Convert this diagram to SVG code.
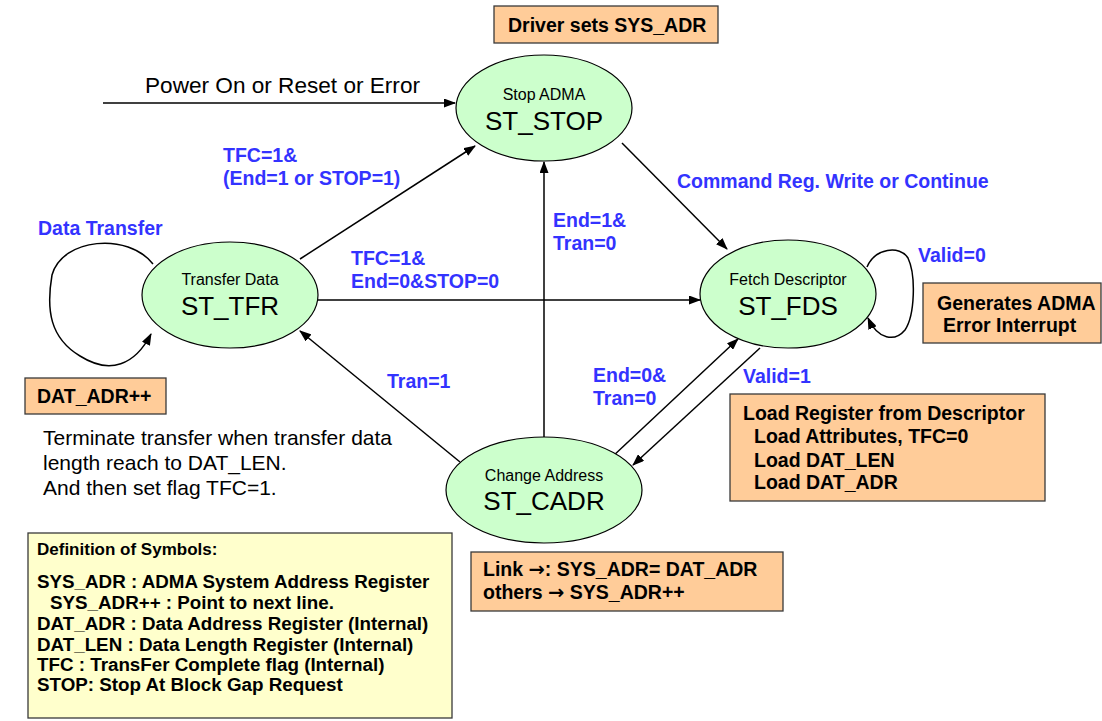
<svg xmlns="http://www.w3.org/2000/svg" width="1102" height="721" viewBox="0 0 1102 721">
<style>
.node{fill:#CCFFCC;stroke:#000;stroke-width:1.2}
.box{fill:#FFCC99;stroke:#3a3a3a;stroke-width:1.3}
.def{fill:#FFFFCC;stroke:#3a3a3a;stroke-width:1.3}
.t1{font-family:"Liberation Sans",Arial,sans-serif;font-size:16px;fill:#000;text-anchor:middle}
.t2{font-family:"Liberation Sans",Arial,sans-serif;font-size:26px;fill:#000;text-anchor:middle}
.lbl{font-family:"Liberation Sans",Arial,sans-serif;font-size:19.5px;font-weight:bold;fill:#3333FF}
.bt{font-family:"Liberation Sans",Arial,sans-serif;font-size:19.5px;font-weight:bold;fill:#000}
.dt{font-family:"Liberation Sans",Arial,sans-serif;font-size:18.8px;font-weight:bold;fill:#000}
.rt{font-family:"Liberation Sans",Arial,sans-serif;font-size:21px;fill:#000}
.ar{font-family:"DejaVu Sans",sans-serif;font-weight:bold}
.ln{fill:none;stroke:#000;stroke-width:1.5}
</style>
<defs>
<marker id="ah" markerUnits="userSpaceOnUse" markerWidth="12" markerHeight="9" refX="11" refY="4.5" orient="auto">
<path d="M0,0 L12,4.5 L0,9 z" fill="#000"/>
</marker>
</defs>

<g id="connectors">
<line class="ln" x1="103" y1="103" x2="455" y2="103" marker-end="url(#ah)"/>
<line class="ln" x1="300" y1="259" x2="475" y2="146" marker-end="url(#ah)"/>
<line class="ln" x1="318" y1="300" x2="700" y2="300" marker-end="url(#ah)"/>
<line class="ln" x1="622" y1="143" x2="727" y2="249" marker-end="url(#ah)"/>
<line class="ln" x1="544" y1="437" x2="544" y2="162" marker-end="url(#ah)"/>
<line class="ln" x1="460" y1="462" x2="300" y2="331" marker-end="url(#ah)"/>
<line class="ln" x1="612" y1="457" x2="738" y2="339" marker-end="url(#ah)"/>
<line class="ln" x1="760" y1="348" x2="633" y2="465" marker-end="url(#ah)"/>
<path class="ln" d="M153,264 C128,232 62,238 52,275 C46,310 50,338 80,356 C110,375 135,365 151,334" marker-end="url(#ah)"/>
<path class="ln" d="M867,267 C875,248 900,245 908,258 C916,275 915,315 905,330 C895,342 878,340 868,318" marker-end="url(#ah)"/>
</g>

<g id="node-stop">
<ellipse class="node" cx="544" cy="108" rx="88" ry="53"/>
<text class="t1" x="544" y="100">Stop ADMA</text>
<text class="t2" x="544" y="130">ST_STOP</text>
</g>
<g id="node-tfr">
<ellipse class="node" cx="230" cy="295" rx="88" ry="53"/>
<text class="t1" x="230" y="285">Transfer Data</text>
<text class="t2" x="230" y="315">ST_TFR</text>
</g>
<g id="node-fds">
<ellipse class="node" cx="788" cy="294" rx="88" ry="54"/>
<text class="t1" x="788" y="285">Fetch Descriptor</text>
<text class="t2" x="788" y="315">ST_FDS</text>
</g>
<g id="node-cadr">
<ellipse class="node" cx="544" cy="490" rx="98" ry="53"/>
<text class="t1" x="544" y="481">Change Address</text>
<text class="t2" x="544" y="510">ST_CADR</text>
</g>

<g id="labels">
<text class="rt" x="145" y="93" style="font-size:22.6px">Power On or Reset or Error</text>
<text class="lbl" x="38" y="235">Data Transfer</text>
<text class="lbl" x="223" y="162">TFC=1&amp;</text>
<text class="lbl" x="223" y="185">(End=1 or STOP=1)</text>
<text class="lbl" x="351" y="265">TFC=1&amp;</text>
<text class="lbl" x="351" y="288">End=0&amp;STOP=0</text>
<text class="lbl" x="677" y="188">Command Reg. Write or Continue</text>
<text class="lbl" x="553" y="227">End=1&amp;</text>
<text class="lbl" x="553" y="250">Tran=0</text>
<text class="lbl" x="918" y="262">Valid=0</text>
<text class="lbl" x="743" y="383">Valid=1</text>
<text class="lbl" x="387" y="388">Tran=1</text>
<text class="lbl" x="593" y="382">End=0&amp;</text>
<text class="lbl" x="593" y="405">Tran=0</text>
</g>

<g id="box-driver">
<rect class="box" x="494" y="6" width="224" height="37"/>
<text class="bt" x="508" y="32">Driver sets SYS_ADR</text>
</g>
<g id="box-datadr">
<rect class="box" x="25" y="378" width="141" height="36"/>
<text class="bt" x="37" y="403">DAT_ADR++</text>
</g>
<g id="box-error">
<rect class="box" x="923" y="283" width="178" height="60"/>
<text class="bt" x="937" y="310">Generates ADMA</text>
<text class="bt" x="943" y="332">Error Interrupt</text>
</g>
<g id="box-load">
<rect class="box" x="730" y="394" width="315" height="107"/>
<text class="bt" x="743" y="420">Load Register from Descriptor</text>
<text class="bt" x="754" y="443">Load Attributes, TFC=0</text>
<text class="bt" x="754" y="467">Load DAT_LEN</text>
<text class="bt" x="754" y="489">Load DAT_ADR</text>
</g>
<g id="box-link">
<rect class="box" x="471" y="552" width="312" height="59"/>
<text class="bt" x="483" y="576">Link <tspan class="ar">→</tspan>: SYS_ADR= DAT_ADR</text>
<text class="bt" x="483" y="599">others <tspan class="ar">→</tspan> SYS_ADR++</text>
</g>
<g id="terminate-note">
<text class="rt" x="43" y="445">Terminate transfer when transfer data</text>
<text class="rt" x="43" y="470">length reach to DAT_LEN.</text>
<text class="rt" x="43" y="495">And then set flag TFC=1.</text>
</g>
<g id="box-definitions">
<rect class="def" x="28" y="533" width="424" height="185"/>
<text class="dt" x="37" y="555" style="font-size:17px">Definition of Symbols:</text>
<text class="dt" x="37" y="588">SYS_ADR : ADMA System Address Register</text>
<text class="dt" x="50" y="609">SYS_ADR++ : Point to next line.</text>
<text class="dt" x="37" y="630">DAT_ADR : Data Address Register (Internal)</text>
<text class="dt" x="37" y="651">DAT_LEN : Data Length Register (Internal)</text>
<text class="dt" x="37" y="671">TFC : TransFer Complete flag (Internal)</text>
<text class="dt" x="37" y="691">STOP: Stop At Block Gap Request</text>
</g>
</svg>
